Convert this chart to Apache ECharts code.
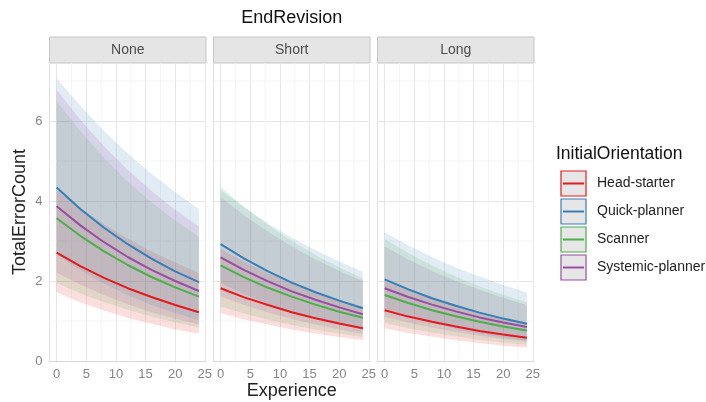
<!DOCTYPE html>
<html>
<head>
<meta charset="utf-8">
<script src="https://cdn.jsdelivr.net/npm/echarts@6/dist/echarts.min.js"></script>
<style>
html,body{margin:0;padding:0;background:#fff}
#chart{width:706px;height:402px}
</style>
</head>
<body>
<div id="chart"></div>
<script>
// facets and groups
const facets = ['None', 'Short', 'Long'];
const groups = ['Head-starter', 'Quick-planner', 'Scanner', 'Systemic-planner'];
const colors = ['#E41A1C', '#377EB8', '#4DAF4A', '#984EA3'];

const experience = [0, 4, 8, 12, 16, 20, 24];
const xTicks = [0, 5, 10, 15, 20, 25];
const yTicks = [0, 2, 4, 6];
const xMinor = [2.5, 7.5, 12.5, 17.5, 22.5];
const yMinor = [1, 3, 5, 7];

// rows: Head-starter, Quick-planner, Scanner, Systemic-planner
const fitNone = [
    [2.71, 2.37, 2.08, 1.82, 1.60, 1.40, 1.22],
    [4.34, 3.80, 3.33, 2.92, 2.56, 2.24, 1.97],
    [3.57, 3.13, 2.74, 2.40, 2.10, 1.84, 1.61],
    [3.87, 3.39, 2.97, 2.60, 2.28, 2.00, 1.75]
];
const lowerNone = [
    [1.72, 1.47, 1.26, 1.08, 0.93, 0.79, 0.68],
    [2.66, 2.27, 1.93, 1.65, 1.40, 1.20, 1.02],
    [1.95, 1.69, 1.47, 1.28, 1.11, 0.97, 0.84],
    [2.21, 1.91, 1.65, 1.42, 1.22, 1.06, 0.91]
];
const upperNone = [
    [4.27, 3.82, 3.42, 3.06, 2.74, 2.46, 2.20],
    [7.07, 6.38, 5.75, 5.19, 4.68, 4.22, 3.80],
    [6.50, 5.75, 5.08, 4.49, 3.97, 3.51, 3.10],
    [6.78, 6.03, 5.37, 4.78, 4.25, 3.78, 3.36]
];

const fitShort = [
    [1.82, 1.59, 1.40, 1.22, 1.07, 0.94, 0.82],
    [2.92, 2.56, 2.24, 1.96, 1.72, 1.51, 1.32],
    [2.39, 2.09, 1.83, 1.61, 1.41, 1.23, 1.08],
    [2.59, 2.27, 1.99, 1.74, 1.53, 1.34, 1.17]
];
const lowerShort = [
    [1.20, 1.04, 0.91, 0.79, 0.69, 0.60, 0.52],
    [1.95, 1.67, 1.44, 1.23, 1.06, 0.91, 0.78],
    [1.36, 1.19, 1.04, 0.90, 0.79, 0.69, 0.60],
    [1.62, 1.40, 1.21, 1.05, 0.91, 0.79, 0.68]
];
const upperShort = [
    [2.80, 2.48, 2.19, 1.94, 1.72, 1.52, 1.35],
    [4.28, 3.84, 3.44, 3.09, 2.77, 2.49, 2.23],
    [4.36, 3.85, 3.40, 3.00, 2.65, 2.34, 2.07],
    [4.10, 3.64, 3.23, 2.86, 2.54, 2.25, 2.00]
];

const fitLong = [
    [1.27, 1.11, 0.98, 0.86, 0.75, 0.66, 0.58],
    [2.04, 1.79, 1.57, 1.38, 1.21, 1.06, 0.93],
    [1.65, 1.45, 1.27, 1.12, 0.98, 0.86, 0.76],
    [1.82, 1.60, 1.41, 1.24, 1.09, 0.96, 0.85]
];
const lowerLong = [
    [0.82, 0.70, 0.61, 0.52, 0.45, 0.38, 0.33],
    [1.30, 1.11, 0.95, 0.81, 0.69, 0.59, 0.50],
    [0.95, 0.82, 0.71, 0.62, 0.53, 0.46, 0.40],
    [1.10, 0.96, 0.84, 0.73, 0.63, 0.55, 0.48]
];
const upperLong = [
    [2.00, 1.77, 1.56, 1.38, 1.22, 1.08, 0.95],
    [3.21, 2.89, 2.60, 2.34, 2.11, 1.90, 1.71],
    [3.05, 2.70, 2.39, 2.11, 1.87, 1.65, 1.46],
    [2.86, 2.54, 2.25, 2.00, 1.78, 1.58, 1.40]
];

const fits = [fitNone, fitShort, fitLong];
const lowers = [lowerNone, lowerShort, lowerLong];
const uppers = [upperNone, upperShort, upperLong];

// layout
const panelLeft = [49.5, 213.5, 377.5];
const panelW = 156.5;
const panelTop = 63;
const panelH = 298;
const xMin = -1.2, xMax = 25.2, yMin = 0, yMax = 7.45;
const font = '"Liberation Sans", Arial, Helvetica, sans-serif';
const tickColor = '#858585';
const gridColor = '#e6e6e6';
const minorColor = '#f1f1f1';
const ribbonAlpha = 0.145;
const plotCenterX = panelLeft[0] + (panelLeft[2] + panelW - panelLeft[0]) / 2;

function rgba(hex, a){
    let r = parseInt(hex.slice(1, 3), 16), g = parseInt(hex.slice(3, 5), 16), b = parseInt(hex.slice(5, 7), 16);
    return 'rgba(' + r + ',' + g + ',' + b + ',' + a + ')';
}

let grid = [], xAxis = [], yAxis = [], series = [], graphic = [];

facets.forEach((name, f) => {
    grid.push({left: panelLeft[f], top: panelTop, width: panelW, height: panelH,
        containLabel: false, outerBoundsMode: 'none'});
    xAxis.push({
        type: 'value', gridIndex: f, min: xMin, max: xMax, splitNumber: 5,
        axisLine: {show: true, onZero: false, lineStyle: {color: '#d9d9d9', width: 1}},
        axisTick: {show: false},
        axisLabel: {color: tickColor, fontSize: 13, fontFamily: font, margin: 7,
            formatter: v => xTicks.includes(v) ? String(v) : ''},
        splitLine: {show: true, showMinLine: false, showMaxLine: false, lineStyle: {color: gridColor, width: 1}}
    });
    yAxis.push({
        type: 'value', gridIndex: f, min: yMin, max: yMax, interval: 2,
        name: f === 0 ? 'TotalErrorCount' : '', nameLocation: 'middle', nameGap: 20,
        nameTextStyle: {fontSize: 18, color: '#222', fontFamily: font},
        axisLine: {show: true, onZero: false, lineStyle: {color: '#e0e0e0', width: 1}},
        axisTick: {show: false},
        axisLabel: {show: f === 0, color: tickColor, fontSize: 13, fontFamily: font, margin: 7,
            formatter: v => yTicks.includes(v) ? String(v) : ''},
        splitLine: {show: true, showMinLine: false, showMaxLine: false, lineStyle: {color: gridColor, width: 1}}
    });

    // minor grid lines
    series.push({
        type: 'custom', xAxisIndex: f, yAxisIndex: f, silent: true, z: 0,
        data: xMinor.map(v => [v, yMin]),
        renderItem: (params, api) => {
            let a = api.coord([api.value(0), yMin]), b = api.coord([api.value(0), yMax]);
            return {type: 'line', shape: {x1: a[0], y1: a[1], x2: b[0], y2: b[1]}, style: {stroke: minorColor, lineWidth: 0.8}};
        }
    });
    series.push({
        type: 'custom', xAxisIndex: f, yAxisIndex: f, silent: true, z: 0,
        data: yMinor.map(v => [0, v]),
        renderItem: (params, api) => {
            let a = api.coord([xMin, api.value(1)]), b = api.coord([xMax, api.value(1)]);
            return {type: 'line', shape: {x1: a[0], y1: a[1], x2: b[0], y2: b[1]}, style: {stroke: minorColor, lineWidth: 0.8}};
        }
    });

    // confidence ribbons
    groups.forEach((g, k) => {
        let lo = lowers[f][k], hi = uppers[f][k];
        series.push({
            type: 'custom', name: g, xAxisIndex: f, yAxisIndex: f, silent: true, z: 1,
            data: experience.map((x, i) => [x, lo[i], hi[i]]),
            renderItem: (params, api) => {
                if(params.dataIndex !== 0) return null;
                let pts = [];
                experience.forEach((x, i) => pts.push(api.coord([x, hi[i]])));
                for(let i = experience.length - 1; i >= 0; i--){
                    pts.push(api.coord([experience[i], lo[i]]));
                }
                return {type: 'polygon', shape: {points: pts}, style: {fill: rgba(colors[k], ribbonAlpha)}};
            }
        });
    });
    // fitted lines
    groups.forEach((g, k) => {
        series.push({
            type: 'line', name: g, xAxisIndex: f, yAxisIndex: f, z: 3,
            data: experience.map((x, i) => [x, fits[f][k][i]]),
            showSymbol: false, symbol: 'none',
            lineStyle: {color: colors[k], width: 2},
            itemStyle: {color: colors[k]}
        });
    });

    // strip
    graphic.push({
        type: 'rect', shape: {x: panelLeft[f], y: 37, width: panelW, height: 26},
        style: {fill: '#e5e5e5', stroke: '#c6c6c6', lineWidth: 1}
    });
    graphic.push({
        type: 'text', x: panelLeft[f] + panelW / 2, y: 50,
        style: {text: name, fill: '#4d4d4d', font: '14px ' + font, textAlign: 'center', textVerticalAlign: 'middle'}
    });
});

// title and x axis title
graphic.push({
    type: 'text', x: plotCenterX, y: 18,
    style: {text: 'EndRevision', fill: '#111', font: '18px ' + font, textAlign: 'center', textVerticalAlign: 'middle'}
});
graphic.push({
    type: 'text', x: plotCenterX, y: 391,
    style: {text: 'Experience', fill: '#222', font: '18px ' + font, textAlign: 'center', textVerticalAlign: 'middle'}
});

// legend
graphic.push({
    type: 'text', x: 556, y: 154,
    style: {text: 'InitialOrientation', fill: '#111', font: '17.5px ' + font, textAlign: 'left', textVerticalAlign: 'middle'}
});
groups.forEach((g, k) => {
    let y0 = 171 + k * 28;
    graphic.push({
        type: 'rect', shape: {x: 561, y: y0, width: 25, height: 25},
        style: {fill: '#e6e6e6', stroke: colors[k], lineWidth: 1.2}
    });
    graphic.push({
        type: 'line', shape: {x1: 563, y1: y0 + 12.5, x2: 584, y2: y0 + 12.5},
        style: {stroke: colors[k], lineWidth: 2}
    });
    graphic.push({
        type: 'text', x: 597, y: y0 + 12.5,
        style: {text: g, fill: '#222', font: '14px ' + font, textAlign: 'left', textVerticalAlign: 'middle'}
    });
});

let chart = echarts.init(document.getElementById('chart'), null, {renderer: 'canvas'});
chart.setOption({
    animation: false,
    backgroundColor: '#fff',
    grid: grid,
    xAxis: xAxis,
    yAxis: yAxis,
    series: series,
    graphic: graphic
});
</script>
</body>
</html>
